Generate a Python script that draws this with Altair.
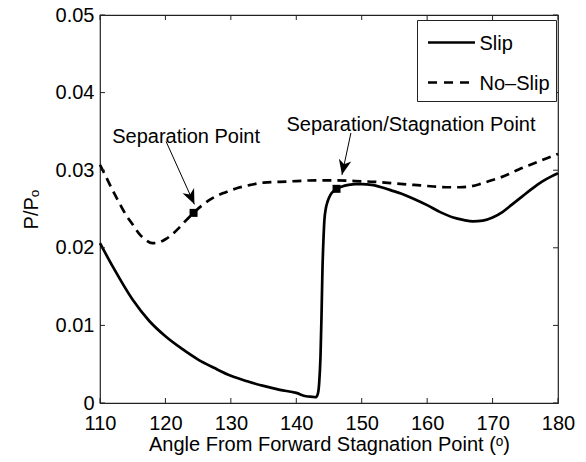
import altair as alt
import pandas as pd

# ---- data ----
slip_angle = [110, 112, 115, 117.5, 120, 122.5, 125, 127.5, 130, 132.5, 135, 137.5, 140,
              141.5, 142.5, 143.0, 143.3, 143.5, 143.7, 143.85, 144.0, 144.15, 144.3, 144.5,
              144.8, 145.2, 145.7, 146.2, 147, 148, 149, 150, 151.5, 153, 154.5, 156, 158,
              160, 162, 164, 165.5, 167, 168.5, 170, 171.5, 173, 174.5, 176, 177.5, 179, 180]
slip_p = [0.0206, 0.0175, 0.0133, 0.0106, 0.0086, 0.0070, 0.0056, 0.0045, 0.0035, 0.0028,
          0.0022, 0.0017, 0.0013, 0.00087, 0.0008, 0.00075, 0.0012, 0.0026, 0.0060, 0.0110,
          0.0172, 0.0210, 0.0236, 0.0250, 0.0260, 0.0268, 0.0273, 0.0276, 0.0279, 0.0281,
          0.0282, 0.0282, 0.0281, 0.0278, 0.0274, 0.0270, 0.0263, 0.0255, 0.0246, 0.0239,
          0.0236, 0.0234, 0.0235, 0.0239, 0.0246, 0.0256, 0.0266, 0.0276, 0.0285, 0.0292,
          0.0296]

noslip_angle = [110, 111, 112, 113, 114, 115, 116, 117, 118, 119, 120, 121, 122, 123, 124.3,
                125.5, 127, 129, 131, 133, 135, 137.5, 140, 143, 146, 149, 152, 155, 158, 161,
                163, 165, 166.5, 168, 169.5, 171, 172.5, 174, 175.5, 177, 178.5, 180]
noslip_p = [0.0307, 0.0290, 0.0273, 0.0257, 0.0242, 0.0230, 0.0218, 0.0210, 0.0206, 0.0207,
            0.0211, 0.0217, 0.0225, 0.0234, 0.0245, 0.0254, 0.0263, 0.0271, 0.0277, 0.0281,
            0.0284, 0.0285, 0.0286, 0.0287, 0.0287, 0.0286, 0.0285, 0.0283, 0.0281, 0.0279,
            0.0278, 0.0278, 0.0279, 0.0282, 0.0286, 0.0290, 0.0295, 0.0301, 0.0306, 0.0311,
            0.0316, 0.0321]

x_ticks = [110, 120, 130, 140, 150, 160, 170, 180]
y_ticks = [0, 0.01, 0.02, 0.03, 0.04, 0.05]

marker_angle = [124.3, 146.15]
marker_p = [0.0245, 0.0276]

ann_text = ["Separation Point", "Separation/Stagnation Point"]
ann_angle = [111.86, 138.5]
ann_p = [0.03353, 0.0350]

arrow_start_angle = [120.1, 148.35]
arrow_start_p = [0.0337, 0.0348]
arrow_tip_angle = [124.43, 146.98]
arrow_tip_p = [0.0256, 0.0294]
arrow_rot = [336, 12]

legend_labels = ["Slip", "No\u2013Slip"]

# ---- layout ----
W, H = 458, 388
FONT = "Liberation Sans"
FS = 20

xs = alt.Scale(domain=[110, 180], nice=False, zero=False)
ys = alt.Scale(domain=[0, 0.05], nice=False, zero=True)

slip_df = pd.DataFrame({"angle": slip_angle, "p": slip_p})
noslip_df = pd.DataFrame({"angle": noslip_angle, "p": noslip_p})

x_axis = alt.Axis(values=x_ticks, ticks=False, domain=False, grid=False,
                  labelFont=FONT, labelFontSize=FS, labelColor="black", labelPadding=10,
                  labelFlush=False,
                  title="Angle From Forward Stagnation Point (\u1d52)",
                  titleFont=FONT, titleFontSize=FS, titleFontWeight="normal",
                  titleColor="black", titlePadding=1)
y_axis = alt.Axis(values=y_ticks, ticks=False, domain=False, grid=False, format="~g",
                  labelFont=FONT, labelFontSize=FS, labelColor="black", labelPadding=6,
                  labelFlush=False,
                  title="P/P\u2092", titleFont=FONT, titleFontSize=FS,
                  titleFontWeight="normal", titleColor="black", titlePadding=14)

slip_line = alt.Chart(slip_df).mark_line(color="black", strokeWidth=2.7, interpolate="monotone").encode(
    x=alt.X("angle:Q", scale=xs, axis=x_axis),
    y=alt.Y("p:Q", scale=ys, axis=y_axis),
)
noslip_line = alt.Chart(noslip_df).mark_line(color="black", strokeWidth=2.7, strokeDash=[9, 6],
                                             interpolate="monotone").encode(
    x=alt.X("angle:Q", scale=xs), y=alt.Y("p:Q", scale=ys))

markers = alt.Chart(pd.DataFrame({"angle": marker_angle, "p": marker_p})).mark_square(
    size=64, color="black", opacity=1, filled=True).encode(
    x=alt.X("angle:Q", scale=xs), y=alt.Y("p:Q", scale=ys))

arrow_df = pd.DataFrame({"a0": arrow_start_angle, "p0": arrow_start_p,
                         "a1": arrow_tip_angle, "p1": arrow_tip_p, "rot": arrow_rot})
arrow_lines = alt.Chart(arrow_df).mark_rule(color="black", strokeWidth=1).encode(
    x=alt.X("a0:Q", scale=xs), y=alt.Y("p0:Q", scale=ys), x2="a1:Q", y2="p1:Q")
arrow_heads = alt.Chart(arrow_df).mark_point(
    shape="M0,0L-0.42,-1L0,-0.72L0.42,-1Z", size=900, filled=True, color="black",
    opacity=1, strokeWidth=0).encode(
    x=alt.X("a1:Q", scale=xs), y=alt.Y("p1:Q", scale=ys),
    angle=alt.Angle("rot:Q", scale=None))

ann = alt.Chart(pd.DataFrame({"angle": ann_angle, "p": ann_p, "t": ann_text})).mark_text(
    font=FONT, fontSize=FS, align="left", baseline="alphabetic", color="black").encode(
    x=alt.X("angle:Q", scale=xs), y=alt.Y("p:Q", scale=ys), text="t:N")

# inward ticks on all four sides
TL = 5
xt_df = pd.DataFrame({"v": x_ticks})
yt_df = pd.DataFrame({"v": y_ticks})
tick_style = dict(color="#222", strokeWidth=1)
t_bottom = alt.Chart(xt_df).mark_rule(**tick_style).encode(
    x=alt.X("v:Q", scale=xs), y=alt.value(H), y2=alt.value(H - TL))
t_top = alt.Chart(xt_df).mark_rule(**tick_style).encode(
    x=alt.X("v:Q", scale=xs), y=alt.value(0), y2=alt.value(TL))
t_left = alt.Chart(yt_df).mark_rule(**tick_style).encode(
    y=alt.Y("v:Q", scale=ys), x=alt.value(0), x2=alt.value(TL))
t_right = alt.Chart(yt_df).mark_rule(**tick_style).encode(
    y=alt.Y("v:Q", scale=ys), x=alt.value(W), x2=alt.value(W - TL))

# legend (drawn by hand, MATLAB style)
one = pd.DataFrame({"k": [0]})
leg_box = alt.Chart(one).mark_rect(fill="white", stroke="#222", strokeWidth=1).encode(
    x=alt.value(317.5), x2=alt.value(456.5), y=alt.value(5.5), y2=alt.value(86.5))
leg_slip = alt.Chart(one).mark_rule(color="black", strokeWidth=2.7).encode(
    x=alt.value(328), x2=alt.value(375), y=alt.value(27.5))
leg_noslip = alt.Chart(one).mark_rule(color="black", strokeWidth=2.7, strokeDash=[9, 7]).encode(
    x=alt.value(328), x2=alt.value(375), y=alt.value(67.5))
leg_text = alt.Chart(pd.DataFrame({"t": legend_labels, "yy": [34.5, 74.5]})).mark_text(
    font=FONT, fontSize=FS, align="left", baseline="alphabetic", color="black").encode(
    x=alt.value(379.5), y=alt.Y("yy:Q", scale=None), text="t:N")

chart = alt.layer(
    slip_line, noslip_line, arrow_lines, arrow_heads, markers, ann,
    t_bottom, t_top, t_left, t_right,
    leg_box, leg_slip, leg_noslip, leg_text,
).properties(
    width=W, height=H,
    autosize=alt.AutoSizeParams(type="none"),
    padding={"left": 100, "top": 15, "right": 28, "bottom": 59},
    background="white",
).configure_view(stroke="#222", strokeWidth=1.2)

chart.save("out.html", embed_options={"renderer": "svg", "actions": False})
